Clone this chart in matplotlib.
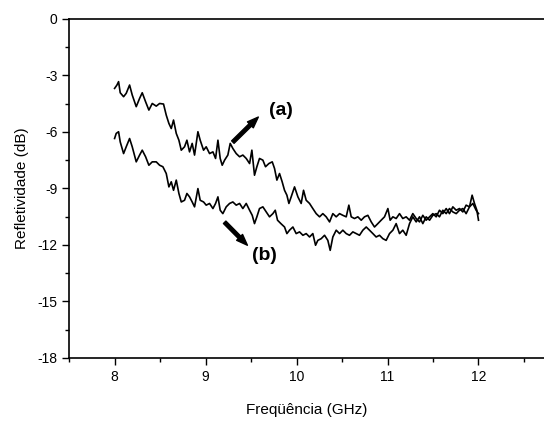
import matplotlib
import numpy as np

matplotlib.use("Agg")
import matplotlib.pyplot as plt
from matplotlib.ticker import MultipleLocator

# curve (a): frequency (GHz) / reflectivity (dB)
freq_a = [8.000, 8.026, 8.044, 8.062, 8.099, 8.128, 8.165, 8.194, 8.238, 8.275,
          8.304, 8.341, 8.377, 8.414, 8.458, 8.495, 8.538, 8.568, 8.597, 8.623,
          8.648, 8.678, 8.707, 8.733, 8.769, 8.795, 8.824, 8.853, 8.879, 8.916,
          8.941, 8.978, 9.007, 9.044, 9.081, 9.110, 9.136, 9.161, 9.183, 9.209,
          9.245, 9.271, 9.300, 9.337, 9.374, 9.410, 9.447, 9.484, 9.509, 9.538,
          9.564, 9.593, 9.630, 9.659, 9.696, 9.733, 9.758, 9.784, 9.813, 9.842,
          9.868, 9.894, 9.916, 9.941, 9.978, 10.015, 10.051, 10.077, 10.106, 10.143,
          10.179, 10.216, 10.253, 10.289, 10.326, 10.363, 10.399, 10.436, 10.473, 10.509,
          10.546, 10.575, 10.601, 10.637, 10.674, 10.711, 10.747, 10.784, 10.821, 10.857,
          10.894, 10.930, 10.967, 11.004, 11.029, 11.059, 11.095, 11.132, 11.168, 11.205,
          11.242, 11.278, 11.315, 11.352, 11.388, 11.425, 11.462, 11.498, 11.535, 11.571,
          11.608, 11.645, 11.681, 11.718, 11.755, 11.791, 11.828, 11.864, 11.901, 11.930,
          11.956, 11.982, 12.000]
refl_a = [-3.69, -3.51, -3.33, -3.92, -4.13, -3.95, -3.51, -4.04, -4.66, -4.22,
          -3.92, -4.40, -4.84, -4.49, -4.63, -4.49, -4.52, -5.11, -5.55, -5.82,
          -5.37, -6.08, -6.44, -6.97, -6.79, -6.44, -7.06, -6.61, -7.23, -5.99,
          -6.44, -6.97, -6.79, -7.15, -7.06, -7.41, -6.44, -7.41, -7.77, -7.50,
          -7.23, -6.61, -6.88, -7.15, -7.32, -7.23, -7.41, -7.68, -6.97, -8.30,
          -7.85, -7.41, -7.50, -7.85, -7.68, -7.59, -7.94, -8.56, -8.21, -8.65,
          -9.10, -9.36, -9.80, -9.45, -8.92, -9.45, -9.80, -9.10, -9.63, -9.80,
          -10.07, -10.34, -10.51, -10.34, -10.51, -10.78, -10.34, -10.51, -10.34, -10.43,
          -10.51, -9.89, -10.51, -10.60, -10.51, -10.69, -10.51, -10.43, -10.78, -11.05,
          -10.87, -10.69, -10.51, -10.07, -10.69, -10.51, -10.60, -10.34, -10.60, -10.51,
          -10.69, -10.34, -10.60, -10.78, -10.43, -10.69, -10.51, -10.34, -10.51, -10.16,
          -10.34, -10.07, -10.34, -9.98, -10.16, -10.07, -10.25, -9.89, -9.98, -9.36,
          -9.80, -10.16, -10.69]

# curve (b)
freq_b = [8.000, 8.018, 8.044, 8.062, 8.099, 8.128, 8.165, 8.194, 8.238, 8.275,
          8.304, 8.341, 8.377, 8.414, 8.458, 8.495, 8.531, 8.568, 8.597, 8.623,
          8.648, 8.678, 8.707, 8.733, 8.769, 8.795, 8.824, 8.853, 8.879, 8.916,
          8.941, 8.978, 9.007, 9.044, 9.081, 9.110, 9.136, 9.161, 9.190, 9.227,
          9.264, 9.300, 9.337, 9.374, 9.410, 9.447, 9.484, 9.513, 9.538, 9.564,
          9.593, 9.630, 9.667, 9.703, 9.740, 9.766, 9.791, 9.828, 9.868, 9.894,
          9.923, 9.960, 9.996, 10.033, 10.070, 10.106, 10.143, 10.179, 10.209, 10.234,
          10.271, 10.308, 10.344, 10.370, 10.399, 10.436, 10.473, 10.509, 10.546, 10.582,
          10.619, 10.656, 10.692, 10.729, 10.766, 10.802, 10.839, 10.875, 10.912, 10.949,
          10.985, 11.022, 11.059, 11.095, 11.132, 11.168, 11.205, 11.242, 11.278, 11.315,
          11.352, 11.388, 11.425, 11.462, 11.498, 11.535, 11.571, 11.608, 11.645, 11.681,
          11.718, 11.755, 11.791, 11.828, 11.864, 11.901, 11.938, 11.974, 12.000]
refl_b = [-6.35, -6.08, -5.99, -6.53, -7.15, -6.79, -6.35, -6.79, -7.59, -7.23,
          -6.97, -7.32, -7.77, -7.59, -7.59, -7.77, -7.85, -8.21, -8.92, -8.65,
          -9.10, -8.56, -9.27, -9.72, -9.63, -9.27, -9.45, -9.72, -9.98, -9.01,
          -9.63, -9.72, -9.89, -9.80, -10.07, -9.80, -9.45, -10.16, -10.34, -9.98,
          -9.80, -9.72, -9.89, -9.80, -10.07, -9.80, -10.16, -10.43, -10.87, -10.51,
          -10.07, -9.98, -10.25, -10.51, -10.34, -10.16, -10.69, -10.87, -11.05, -11.40,
          -11.22, -11.05, -11.40, -11.31, -11.49, -11.40, -11.58, -11.40, -12.02, -11.76,
          -11.67, -11.49, -11.76, -12.29, -11.58, -11.22, -11.40, -11.22, -11.40, -11.49,
          -11.31, -11.40, -11.49, -11.22, -11.05, -11.22, -11.40, -11.58, -11.49, -11.67,
          -11.76, -11.40, -11.22, -10.87, -11.40, -11.22, -11.49, -10.87, -10.51, -10.78,
          -10.51, -10.87, -10.51, -10.69, -10.43, -10.34, -10.51, -10.16, -10.34, -10.07,
          -10.25, -10.34, -10.16, -10.07, -10.34, -9.98, -9.80, -10.16, -10.34]

x_ticks = [8, 9, 10, 11, 12]
y_ticks = [0, -3, -6, -9, -12, -15, -18]

plt.rcParams["font.family"] = ["Liberation Sans", "DejaVu Sans"]

fig = plt.figure(figsize=(5.44, 4.21), dpi=100)
ax = fig.add_axes([0.127, 0.150, 0.873, 0.805])

ax.plot(freq_a, refl_a, color="black", lw=1.2)
ax.plot(freq_b, refl_b, color="black", lw=1.2)

ax.set_xlim(7.5, 12.72)
ax.set_ylim(-18, 0)
ax.set_xticks(x_ticks)
ax.set_yticks(y_ticks)
ax.set_yticklabels([str(t) for t in y_ticks])
ax.xaxis.set_minor_locator(MultipleLocator(0.5))
ax.yaxis.set_minor_locator(MultipleLocator(1.5))
ax.tick_params(which="both", direction="out", width=1, labelsize=10, colors="black")
ax.tick_params(which="major", length=5)
ax.tick_params(which="minor", length=3)
ax.spines["right"].set_visible(False)
for s in ("left", "bottom", "top"):
    ax.spines[s].set_linewidth(1.2)

ax.set_xlabel("Freqüência (GHz)", fontsize=11, labelpad=14)
ax.set_ylabel("Refletividade (dB)", fontsize=11, labelpad=6)

arrow = dict(arrowstyle="simple,head_length=0.8,head_width=0.6,tail_width=0.25",
             color="black", shrinkA=0, shrinkB=0)
ax.annotate("", xy=(9.58, -5.21), xytext=(9.30, -6.54), arrowprops=arrow)
ax.annotate("", xy=(9.46, -12.02), xytext=(9.21, -10.80), arrowprops=arrow)
ax.text(9.83, -4.84, "(a)", fontsize=14, fontweight="bold", ha="center", va="center")
ax.text(9.65, -12.55, "(b)", fontsize=14, fontweight="bold", ha="center", va="center")

fig.savefig("out.png", dpi=100)
